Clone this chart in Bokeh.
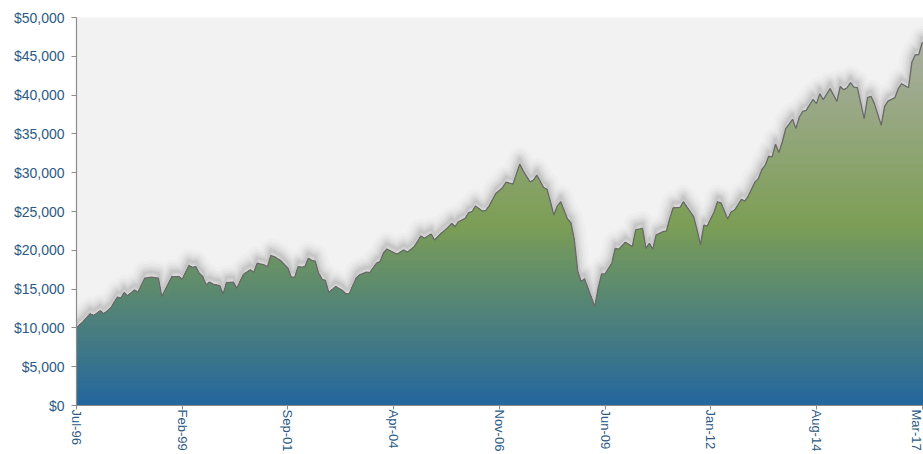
import numpy as np
from bokeh.plotting import figure
from bokeh.models import FixedTicker, NumeralTickFormatter, Range1d
from bokeh.embed import file_html
from bokeh.resources import INLINE

# Months elapsed since Jul-1996 and the growth of $10,000
month_index = [
    0, 2, 4, 5, 7, 8, 10, 12, 13, 14, 15, 17, 18, 20, 22, 24, 25, 28, 30, 31,
    33, 34, 35, 36, 37, 38, 39, 40, 42, 43, 44, 46, 47, 49, 51, 52, 53, 55, 56, 57,
    58, 59, 60, 62, 63, 64, 65, 66, 67, 68, 69, 70, 71, 72, 73, 74, 76, 78, 79, 80,
    82, 83, 85, 86, 88, 89, 90, 91, 94, 96, 97, 99, 100, 101, 102, 104, 105, 107, 109, 110,
    111, 112, 114, 115, 116, 117, 119, 120, 121, 123, 125, 126, 128, 130, 131, 133, 134, 135, 137, 138,
    139, 140, 141, 142, 144, 145, 146, 147, 148, 149, 150, 152, 153, 154, 155, 157, 158, 159, 161, 163,
    164, 166, 167, 168, 169, 170, 172, 173, 174, 175, 177, 178, 179, 181, 182, 183, 184, 185, 187, 188,
    189, 191, 192, 193, 195, 196, 197, 199, 200, 201, 202, 203, 204, 205, 206, 207, 208, 210, 211, 212,
    213, 214, 216, 217, 218, 219, 221, 223, 224, 225, 226, 227, 228, 229, 231, 232, 233, 234, 236, 237,
    238, 240, 241, 242, 244, 245, 246, 247, 248, 249,
]
portfolio_value = [
    10000, 10830, 11820, 11600, 12200, 11820, 12550, 13970, 13840, 14560, 14130, 14900, 14600, 16400, 16540, 16400, 14050, 16620, 16620, 16280,
    18030, 17800, 17880, 17050, 16620, 15550, 15900, 15640, 15460, 14350, 15840, 15900, 15120, 16920, 17480, 17180, 18340, 18120, 17900, 19310,
    19200, 18890, 18630, 17690, 16540, 16540, 17900, 17820, 17900, 18980, 18700, 18600, 17050, 16300, 16100, 14560, 15330, 14820, 14390, 14400,
    16400, 16830, 17180, 17130, 18340, 18540, 19620, 20170, 19490, 20050, 19750, 20470, 21110, 21850, 21550, 22100, 21330, 22190, 22960, 23480,
    23040, 23680, 24120, 24840, 24970, 25700, 25060, 25100, 25700, 27330, 28100, 28780, 28530, 31100, 30240, 28820, 29040, 29680, 28100, 27850,
    26250, 24540, 25700, 26250, 24030, 23550, 21330, 17260, 15970, 16320, 15120, 12760, 15120, 16960, 16960, 18340, 20260, 20130, 21030, 20470,
    22620, 22830, 20260, 20900, 20130, 21970, 22400, 22490, 24120, 25480, 25530, 26250, 25610, 24330, 22620, 20690, 23260, 23130, 24970, 26250,
    26120, 24030, 24970, 25190, 26560, 26340, 26990, 28820, 29260, 30410, 30970, 32120, 32030, 33670, 32600, 33960, 35680, 36880, 35680, 37180,
    37910, 38040, 39450, 38900, 40180, 39410, 40830, 39190, 41120, 40700, 40950, 41600, 41030, 40950, 36970, 39670, 39840, 38900, 36110, 38550,
    39230, 39670, 40830, 41470, 40950, 44240, 45190, 45230, 46740, 46610,
]
tick_labels = ["Jul-96", "Feb-99", "Sep-01", "Apr-04", "Nov-06", "Jun-09", "Jan-12", "Aug-14", "Mar-17"]
tick_step_months = 31

x = np.array(month_index, dtype=float)
v = np.array(portfolio_value, dtype=float)
tick_positions = [i * tick_step_months for i in range(len(tick_labels))]

p = figure(width=923, height=454, output_backend="svg", toolbar_location=None,
           x_range=Range1d(0, 248.4), y_range=Range1d(0, 50000),
           min_border_left=76, min_border_right=0, min_border_top=17, min_border_bottom=44)
p.background_fill_color = "#f2f2f2"
p.border_fill_color = "white"
p.outline_line_color = None
p.grid.visible = False

# soft blurred shadow above the line
for w, a in [(24, 0.025), (18, 0.04), (13, 0.055), (9, 0.07), (5, 0.08), (2.5, 0.08)]:
    p.line(x, v + 650, line_width=w, line_color="#6a6a6a", line_alpha=a,
           line_join="round", line_cap="round")

# vertical gradient fill emulated with stacked bands
stops = [(0.0, (0x23, 0x66, 0x9e)), (0.5, (0x7c, 0x9e, 0x55)), (1.0, (0xa9, 0xae, 0xa0))]
def grad(t):
    for (t0, c0), (t1, c1) in zip(stops[:-1], stops[1:]):
        if t <= t1:
            f = (t - t0) / (t1 - t0)
            r, g, b = [int(round(c0[i] + (c1[i] - c0[i]) * f)) for i in range(3)]
            return "#%02x%02x%02x" % (r, g, b)
    return "#%02x%02x%02x" % stops[-1][1]

vmax = v.max()
N = 90
for k in range(N - 1, -1, -1):
    top = vmax * (k + 1) / N
    p.varea(x=x, y1=np.zeros_like(v), y2=np.minimum(v, top), fill_color=grad((k + 0.5) / N))

p.line(x, v, line_color="#6a6a6a", line_width=1.3)

label_color = "#2c5a84"
p.yaxis.ticker = FixedTicker(ticks=list(range(0, 50001, 5000)))
p.yaxis.formatter = NumeralTickFormatter(format="$0,0")
p.xaxis.ticker = FixedTicker(ticks=tick_positions)
p.xaxis.major_label_overrides = {t: lab for t, lab in zip(tick_positions, tick_labels)}
p.xaxis.major_label_orientation = -np.pi / 2

for ax in (p.xaxis, p.yaxis):
    ax.axis_line_color = "#8c8c8c"
    ax.axis_line_width = 1.2
    ax.major_tick_line_color = "#8c8c8c"
    ax.major_tick_in = 0
    ax.minor_tick_line_color = None
    ax.major_label_text_color = label_color
    ax.major_label_text_font = "Liberation Sans"
p.yaxis.major_tick_out = 5
p.xaxis.major_tick_out = 4
p.yaxis.major_label_text_font_size = "14px"
p.xaxis.major_label_text_font_size = "13px"
p.yaxis.major_label_standoff = 7
p.xaxis.major_label_standoff = 0

open("out.html", "w").write(file_html(p, INLINE))
